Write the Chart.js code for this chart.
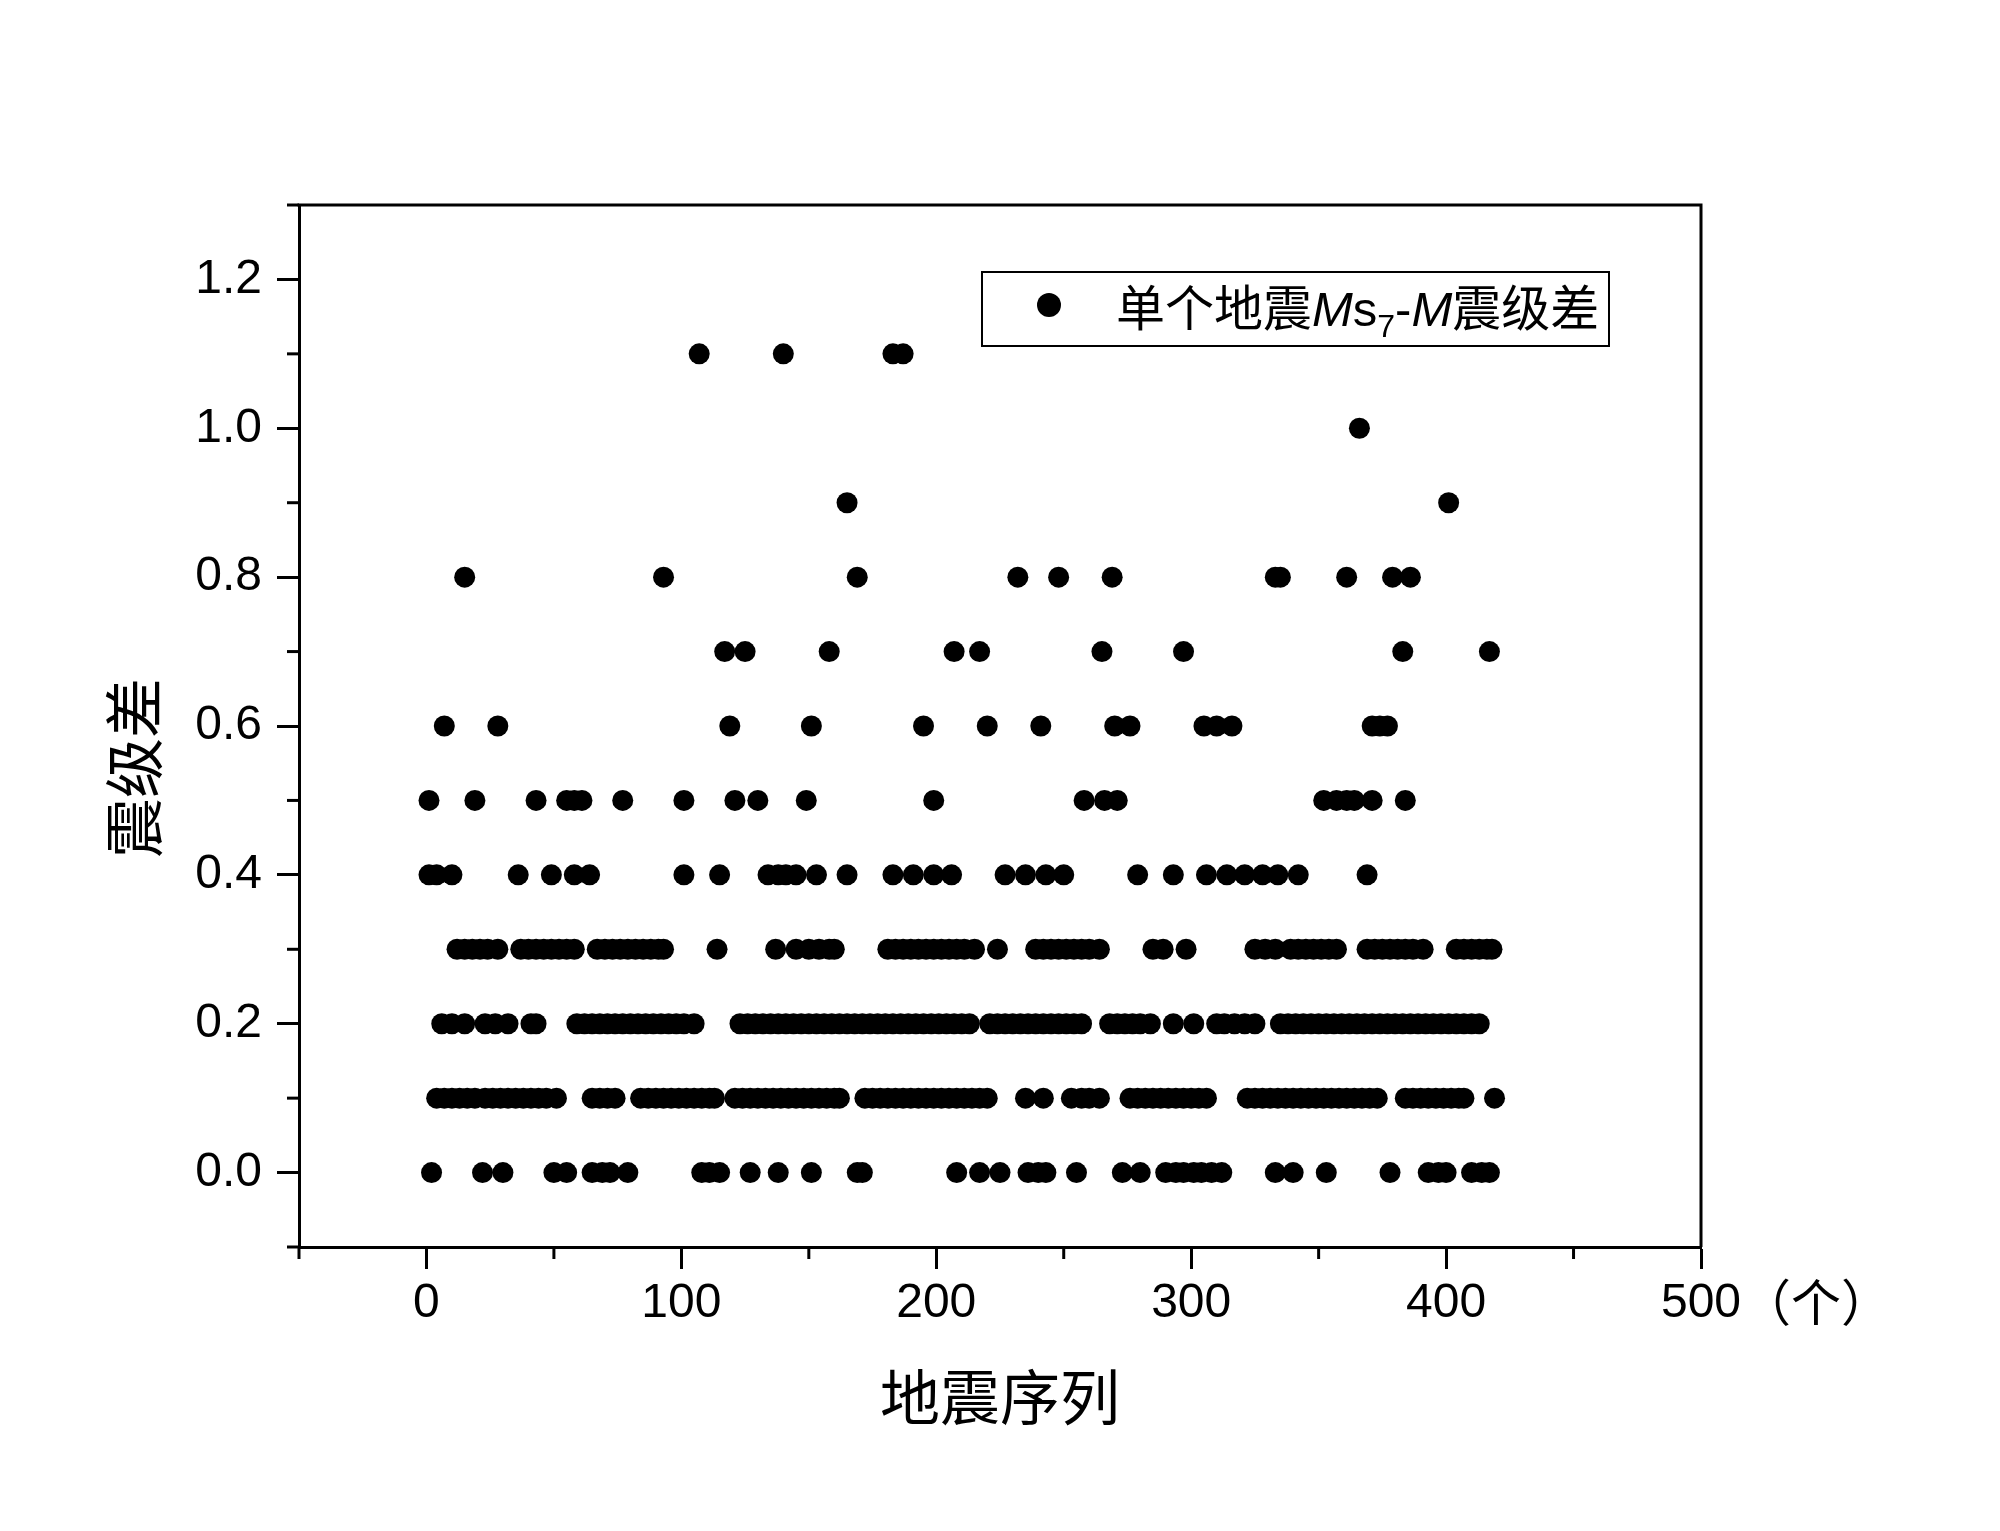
<!DOCTYPE html>
<html lang="zh">
<head>
  <meta charset="UTF-8" />
  <title>震级差散点图</title>
  <script src="https://cdn.jsdelivr.net/npm/chart.js"></script>
  <style>
    html, body { margin: 0; padding: 0; background: #fff; }
    canvas { display: block; }
  </style>
</head>
<body>
  <canvas id="scatterChart" width="2000" height="1531"></canvas>

  <script>
    // magnitude-difference levels, one row of sequence numbers per level
    const yLevels = [0.0, 0.1, 0.2, 0.3, 0.4, 0.5, 0.6, 0.7, 0.8, 0.9, 1.0, 1.1];

    const row00 = [2, 22, 30, 50, 55, 65, 69, 72, 79, 108, 111, 115, 127, 138, 151, 169, 171,
      208, 217, 225, 236, 240, 243, 255, 273, 280, 290, 294, 297, 301, 304, 308, 312,
      333, 340, 353, 378, 393, 397, 400, 410, 414, 417];
    const row01 = [4, 7, 10, 13, 16, 19, 23, 26, 29, 32, 35, 38, 41, 44, 47, 51,
      65, 68, 71, 74, 84, 87, 90, 93, 96, 99, 102, 105, 108, 111, 113,
      121, 124, 127, 130, 133, 136, 139, 142, 145, 148, 151, 154, 157, 160, 162,
      172, 175, 178, 181, 184, 187, 190, 193, 196, 199, 202, 205, 208, 211, 214, 217, 220,
      235, 242, 253, 257, 260, 264, 276, 279, 282, 285, 288, 291, 294, 297, 300, 303, 306,
      322, 325, 328, 331, 334, 337, 340, 343, 346, 349, 352, 355, 358, 361, 364, 367, 370, 373,
      384, 387, 390, 393, 396, 399, 402, 405, 407, 419];
    const row02 = [6, 10, 15, 23, 27, 32, 41, 43, 59, 62, 65, 68, 71, 74, 77, 80, 83, 86, 89, 92,
      95, 98, 101, 105, 123, 126, 129, 132, 135, 138, 141, 144, 147, 150, 153, 156, 159, 162,
      165, 168, 171, 174, 177, 180, 183, 186, 189, 192, 195, 198, 201, 204, 207, 210, 213,
      221, 224, 227, 230, 233, 236, 239, 242, 245, 248, 251, 254, 257, 268, 271, 274, 277,
      280, 284, 293, 301, 310, 313, 317, 321, 325, 335, 338, 341, 344, 347, 350, 353, 356,
      359, 362, 365, 368, 371, 374, 377, 380, 383, 386, 389, 392, 395, 398, 401, 404, 407,
      410, 413];
    const row03 = [12, 15, 18, 21, 24, 28, 37, 40, 43, 46, 49, 52, 55, 58, 67, 70, 73, 76, 79,
      82, 85, 88, 91, 93, 114, 137, 145, 150, 154, 158, 160, 181, 184, 187, 190, 193, 196,
      199, 202, 205, 208, 211, 215, 224, 239, 242, 245, 248, 251, 254, 257, 260, 264,
      285, 289, 298, 325, 329, 333, 339, 342, 345, 348, 351, 354, 357, 369, 372, 375, 378,
      381, 384, 387, 391, 404, 407, 410, 413, 416, 418];
    const row04 = [1, 4, 10, 36, 49, 58, 64, 101, 115, 134, 138, 141, 145, 153, 165, 183, 191,
      199, 206, 227, 235, 243, 250, 279, 293, 306, 314, 321, 328, 334, 342, 369];
    const row05 = [1, 19, 43, 55, 58, 61, 77, 101, 121, 130, 149, 199, 258, 266, 271, 352, 357,
      361, 364, 371, 384];
    const row06 = [7, 28, 119, 151, 195, 220, 241, 270, 276, 305, 310, 316, 371, 374, 377];
    const row07 = [117, 125, 158, 207, 217, 265, 297, 383, 417];
    const row08 = [15, 93, 169, 232, 248, 269, 333, 335, 361, 379, 386];
    const row09 = [165, 401];
    const row10 = [366];
    const row11 = [107, 140, 183, 187];

    const xByLevel = [row00, row01, row02, row03, row04, row05, row06, row07, row08, row09, row10, row11];

    const xTicks = [0, 100, 200, 300, 400, 500];
    const xMinorTicks = [-50, 50, 150, 250, 350, 450];
    const yTicks = [0.0, 0.2, 0.4, 0.6, 0.8, 1.0, 1.2];
    const yMinorTicks = [-0.1, 0.1, 0.3, 0.5, 0.7, 0.9, 1.1, 1.3];

    const points = [];
    xByLevel.forEach((xs, i) => {
      xs.forEach(x => points.push({ x: x, y: yLevels[i] }));
    });

    const latin = '"Liberation Sans", Arial, sans-serif';
    const cjk = '"Noto Sans CJK SC", sans-serif';

    // frame, minor ticks, axis titles and the legend
    const extras = {
      id: 'extras',
      afterDraw(chart) {
        const c = chart.ctx;
        const a = chart.chartArea;
        const xs = chart.scales.x;
        const ys = chart.scales.y;
        c.save();
        c.strokeStyle = '#000';
        c.fillStyle = '#000';
        c.lineWidth = 3;

        c.beginPath();
        c.moveTo(a.left - 1.5, a.top);
        c.lineTo(a.right, a.top);
        c.lineTo(a.right, a.bottom);
        c.stroke();

        yMinorTicks.forEach(v => {
          const y = ys.getPixelForValue(v);
          c.beginPath();
          c.moveTo(a.left - 12, y);
          c.lineTo(a.left, y);
          c.stroke();
        });
        xMinorTicks.forEach(v => {
          const x = xs.getPixelForValue(v);
          c.beginPath();
          c.moveTo(x, a.bottom);
          c.lineTo(x, a.bottom + 12);
          c.stroke();
        });

        // unit after the last tick label
        c.font = '50px ' + cjk;
        c.textAlign = 'left';
        c.textBaseline = 'middle';
        c.fillText('（个）', xs.getPixelForValue(500) + 40, 1302);

        // axis titles
        c.font = '60px ' + cjk;
        c.textAlign = 'center';
        c.fillText('地震序列', (a.left + a.right) / 2, 1397);
        c.save();
        c.translate(134, 768);
        c.rotate(-Math.PI / 2);
        c.fillText('震级差', 0, 0);
        c.restore();

        // legend
        c.lineWidth = 2;
        c.strokeRect(982, 272, 627, 74);
        c.beginPath();
        c.arc(1049, 305, 12, 0, Math.PI * 2);
        c.fill();

        const parts = [
          { t: '单个地震', f: '49px ' + cjk, dy: 0 },
          { t: 'M', f: 'italic 49px ' + latin, dy: 0 },
          { t: 's', f: '49px ' + latin, dy: 0 },
          { t: '7', f: '32px ' + latin, dy: 11 },
          { t: '-', f: '49px ' + latin, dy: 0 },
          { t: 'M', f: 'italic 49px ' + latin, dy: 0 },
          { t: '震级差', f: '49px ' + cjk, dy: 0 }
        ];
        c.textAlign = 'left';
        c.textBaseline = 'alphabetic';
        let px = 1116;
        parts.forEach(p => {
          c.font = p.f;
          c.fillText(p.t, px, 326 + p.dy);
          px += c.measureText(p.t).width;
        });
        c.restore();
      }
    };

    const ctx = document.getElementById('scatterChart').getContext('2d');
    new Chart(ctx, {
      type: 'scatter',
      data: {
        datasets: [{
          label: '单个地震Ms7-M震级差',
          data: points,
          backgroundColor: '#000',
          borderColor: '#000',
          borderWidth: 0,
          pointRadius: 10.5,
          pointHoverRadius: 10.5
        }]
      },
      options: {
        responsive: false,
        animation: false,
        events: [],
        layout: { padding: { left: 149, right: 299, top: 205, bottom: 100 } },
        plugins: {
          legend: { display: false },
          tooltip: { enabled: false }
        },
        scales: {
          x: {
            type: 'linear',
            min: -50,
            max: 500,
            afterBuildTicks: s => { s.ticks = xTicks.map(v => ({ value: v })); },
            afterFit: s => { s.height = 184; },
            grid: { drawOnChartArea: false, tickLength: 22, tickWidth: 3, tickColor: '#000' },
            border: { color: '#000', width: 3 },
            ticks: {
              color: '#000',
              font: { family: latin, size: 48 },
              padding: 6,
              maxRotation: 0,
              autoSkip: false
            }
          },
          y: {
            type: 'linear',
            min: -0.1,
            max: 1.3,
            afterBuildTicks: s => { s.ticks = yTicks.map(v => ({ value: v })); },
            afterFit: s => { s.width = 150; },
            grid: { drawOnChartArea: false, tickLength: 22, tickWidth: 3, tickColor: '#000' },
            border: { color: '#000', width: 3 },
            ticks: {
              color: '#000',
              font: { family: latin, size: 48 },
              padding: 15,
              autoSkip: false,
              callback: v => v.toFixed(1)
            }
          }
        }
      },
      plugins: [extras]
    });
  </script>
</body>
</html>
